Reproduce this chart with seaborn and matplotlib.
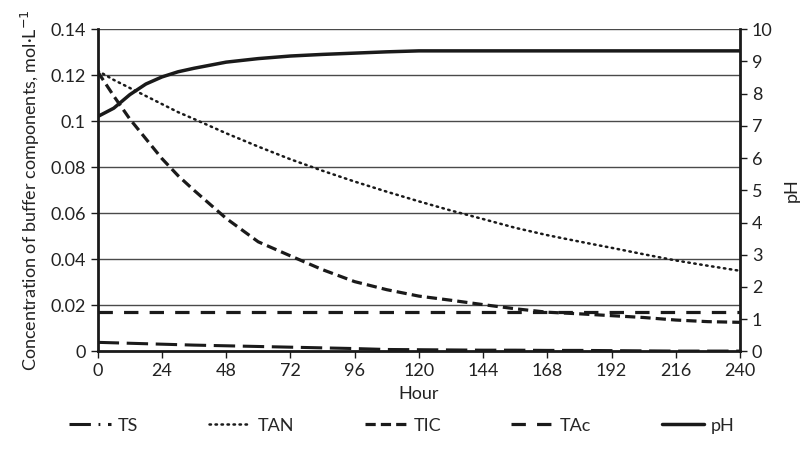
import matplotlib
matplotlib.use("Agg")
import matplotlib.pyplot as plt
from matplotlib.lines import Line2D
import seaborn as sns
import pandas as pd

# hours sampled along the curves
hours = [0, 6, 12, 18, 24, 30, 36, 48, 60, 72, 84, 96, 108, 120,
         132, 144, 156, 168, 180, 192, 204, 216, 228, 240]

# concentrations, mol/L
ts = [0.0039, 0.0037, 0.0035, 0.0033, 0.0031, 0.0029, 0.0027, 0.0024, 0.0021, 0.0018,
      0.0015, 0.0012, 0.0008, 0.0007, 0.0006, 0.0005, 0.0005, 0.0004, 0.0004, 0.0003,
      0.0002, 0.0001, 0.0001, 0.0001]
tan = [0.122, 0.118, 0.1145, 0.111, 0.1075, 0.104, 0.101, 0.0948, 0.089, 0.0835,
       0.0785, 0.0738, 0.0694, 0.0652, 0.0612, 0.0575, 0.0537, 0.0505, 0.0477, 0.045,
       0.0422, 0.0395, 0.0372, 0.035]
tic = [0.1216, 0.111, 0.101, 0.0924, 0.0838, 0.0764, 0.070, 0.0578, 0.0476, 0.0415,
       0.0355, 0.0303, 0.0268, 0.024, 0.0222, 0.0203, 0.0185, 0.017, 0.0163, 0.0155,
       0.0147, 0.0136, 0.0129, 0.0126]
tac = [0.0172] * len(hours)
ph = [7.29, 7.55, 7.97, 8.3, 8.52, 8.68, 8.79, 8.98, 9.09, 9.17, 9.22, 9.26, 9.30, 9.33,
      9.33, 9.33, 9.33, 9.33, 9.33, 9.33, 9.33, 9.33, 9.33, 9.33]

labels = ["TS", "TAN", "TIC", "TAc", "pH"]
df = pd.DataFrame({"hour": hours, "TS": ts, "TAN": tan, "TIC": tic, "TAc": tac, "pH": ph})

sns.set_style("white")
plt.rcParams["font.family"] = ["Lato", "DejaVu Sans"]

k = "#1a1a1a"
txt = "#222222"
# line style per series: (linewidth, dash pattern or None)
styles = {
    "TS": (2.2, (7, 2.5)),
    "TAN": (1.8, (0.6, 1.8)),
    "TIC": (2.3, (3.2, 1.6)),
    "TAc": (2.3, (4.5, 3.5)),
    "pH": (2.5, None),
}

fig = plt.figure(figsize=(8.04, 4.5), dpi=100)
ax = fig.add_axes([0.1215, 0.2193, 0.7989, 0.7156])
ax2 = ax.twinx()

# gridlines for left axis
for v in [0.02, 0.04, 0.06, 0.08, 0.10, 0.12, 0.14]:
    ax.axhline(v, color="#4a4a4a", lw=1, zorder=0)

for name in ["TS", "TAN", "TIC", "TAc"]:
    lw, d = styles[name]
    sns.lineplot(data=df, x="hour", y=name, ax=ax, color=k, lw=lw, legend=False)
    ax.lines[-1].set_dashes(d)
    ax.lines[-1].set_dash_capstyle("round" if name == "TAN" else "butt")
sns.lineplot(data=df, x="hour", y="pH", ax=ax2, color=k, lw=styles["pH"][0], legend=False)

ax.set_xlim(0, 240)
ax.set_ylim(0, 0.14)
ax2.set_ylim(0, 10)
ax.set_xticks(range(0, 241, 24))
ax.set_yticks([0, 0.02, 0.04, 0.06, 0.08, 0.1, 0.12, 0.14])
ax.set_yticklabels(["0", "0.02", "0.04", "0.06", "0.08", "0.1", "0.12", "0.14"])
ax2.set_yticks(range(0, 11))

for a in (ax, ax2):
    for s in a.spines.values():
        s.set_visible(False)
ax.spines["left"].set_visible(True)
ax.spines["bottom"].set_visible(True)
ax2.spines["right"].set_visible(True)
for s in (ax.spines["left"], ax.spines["bottom"], ax2.spines["right"]):
    s.set_color(k)
    s.set_linewidth(2)

ax.tick_params(axis="both", direction="out", length=5, width=1, color=k,
               labelsize=13, labelcolor=txt, left=True, bottom=True)
ax2.tick_params(axis="y", direction="out", length=5, width=1, color=k,
                labelsize=13, labelcolor=txt, right=True)

ax.set_xlabel("Hour", fontsize=13, color=txt, labelpad=5)
ax.set_ylabel("Concentration of buffer components, mol·L$^{-1}$", fontsize=13,
              color=txt, labelpad=6)
ax2.set_ylabel("pH", fontsize=13, color=txt, labelpad=8)

hs = []
for name in labels:
    lw, d = styles[name]
    if name == "TS":
        d = (7, 2.5, 0.6, 2.5)
    h = Line2D([], [], color=k, lw=lw)
    if d:
        h.set_dashes(d)
        if name == "TAN":
            h.set_dash_capstyle("round")
    hs.append(h)
fig.legend(hs, labels, loc="lower center", ncol=5,
           bbox_to_anchor=(0.5, 0.0), frameon=False, fontsize=13, handlelength=2.3,
           columnspacing=3.9, handletextpad=0.4)

fig.savefig("out.png", dpi=100)
